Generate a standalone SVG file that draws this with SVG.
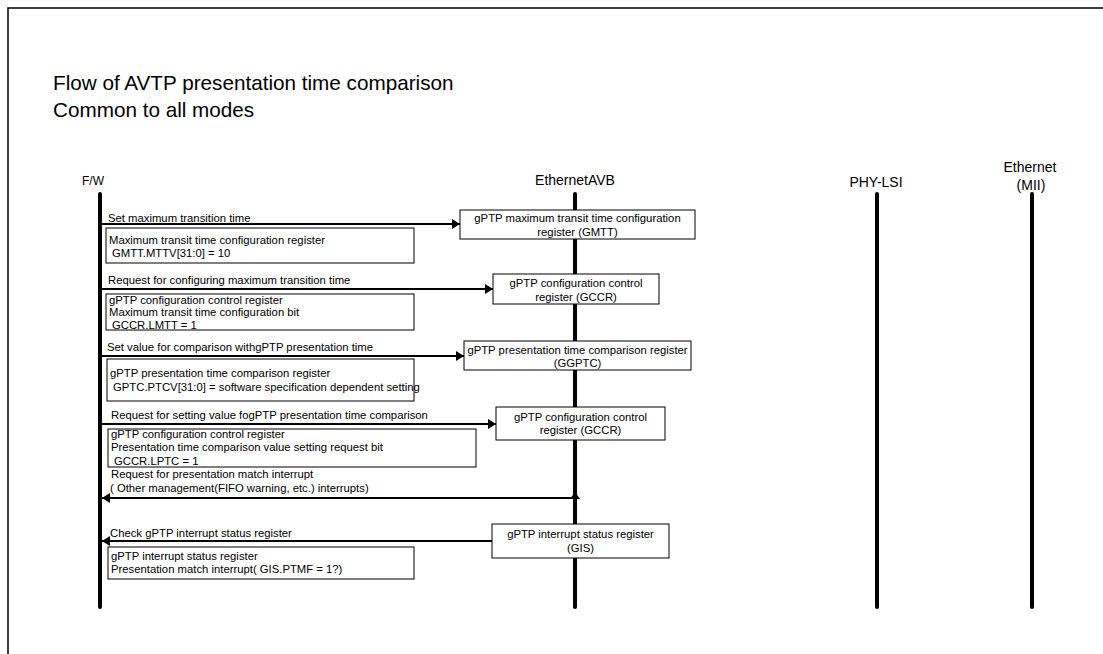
<svg xmlns="http://www.w3.org/2000/svg" width="1103" height="654" viewBox="0 0 1103 654">
<style>
text{font-family:"Liberation Sans",Arial,sans-serif;fill:#000}
.t{font-size:20.7px}
.h{font-size:14px;text-anchor:middle}
.s{font-size:11.3px}
.c{font-size:11.3px;text-anchor:middle}
.life{stroke:#000;stroke-width:4;stroke-linecap:round;fill:none}
.box{fill:#fff;stroke:#000;stroke-width:1}
.msg{stroke:#000;stroke-width:2;fill:none}
</style>
<defs>
<marker id="ah" viewBox="0 0 8 10" refX="8" refY="5" markerWidth="8" markerHeight="10" markerUnits="userSpaceOnUse" orient="auto">
<path d="M0,0 L8,5 L0,10 Z" fill="#000"/>
</marker>
</defs>
<rect width="1103" height="654" fill="#fff"/>
<path d="M8,654 V8 H1103" fill="none" stroke="#000" stroke-width="1.5"/>
<g id="title">
<text class="t" x="53" y="90">Flow of AVTP presentation time comparison</text>
<text class="t" x="53" y="117">Common to all modes</text>
</g>
<g id="lifelines">
<g id="fw"><text class="h" x="93" y="185" style="font-size:12px">F/W</text><line class="life" x1="100" y1="194" x2="100" y2="607"/></g>
<g id="avb"><text class="h" x="575" y="185">EthernetAVB</text><line class="life" x1="575" y1="194" x2="575" y2="607"/></g>
<g id="phy"><text class="h" x="876" y="187">PHY-LSI</text><line class="life" x1="877" y1="194" x2="877" y2="607"/></g>
<g id="mii"><text class="h" x="1030" y="172">Ethernet</text><text class="h" x="1031" y="190">(MII)</text><line class="life" x1="1032" y1="194" x2="1032" y2="607"/></g>
</g>
<g id="connectors">
<line class="msg" x1="100" y1="224" x2="460" y2="224" marker-end="url(#ah)"/>
<line class="msg" x1="100" y1="289" x2="493" y2="289" marker-end="url(#ah)"/>
<line class="msg" x1="100" y1="356" x2="464" y2="356" marker-end="url(#ah)"/>
<line class="msg" x1="100" y1="424" x2="496" y2="424" marker-end="url(#ah)"/>
<line class="msg" x1="572" y1="498" x2="102" y2="498" marker-end="url(#ah)"/>
<polygon points="570,499 575,492 580,499" fill="#000"/>
<line class="msg" x1="492" y1="541" x2="102" y2="541" marker-end="url(#ah)"/>
</g>
<g id="labels">
<text class="s" x="108" y="221.5">Set maximum transition time</text>
<text class="s" x="108" y="283.5">Request for configuring maximum transition time</text>
<text class="s" x="107" y="350.5">Set value for comparison withgPTP presentation time</text>
<text class="s" x="111" y="418.5">Request for setting value fogPTP presentation time comparison</text>
<text class="s" x="111" y="478">Request for presentation match interrupt</text>
<text class="s" x="110" y="492">( Other management(FIFO warning, etc.) interrupts)</text>
<text class="s" x="110" y="537">Check gPTP interrupt status register</text>
</g>
<g id="note1"><rect class="box" x="106" y="228" width="308" height="35"/>
<text class="s" x="109" y="244">Maximum transit time configuration register</text>
<text class="s" x="112" y="256.5">GMTT.MTTV[31:0] = 10</text></g>
<g id="note2"><rect class="box" x="106" y="294" width="308" height="36"/>
<text class="s" x="109" y="303.5">gPTP configuration control register</text>
<text class="s" x="109" y="316">Maximum transit time configuration bit</text>
<text class="s" x="112" y="328.5">GCCR.LMTT = 1</text></g>
<g id="note3"><rect class="box" x="107" y="359" width="307" height="42"/>
<text class="s" x="110" y="377">gPTP presentation time comparison register</text>
<text class="s" x="113" y="391">GPTC.PTCV[31:0] = software specification dependent setting</text></g>
<g id="note4"><rect class="box" x="108" y="429" width="368" height="38"/>
<text class="s" x="111" y="438">gPTP configuration control register</text>
<text class="s" x="111" y="451">Presentation time comparison value setting request bit</text>
<text class="s" x="114" y="465">GCCR.LPTC = 1</text></g>
<g id="note6"><rect class="box" x="108" y="547" width="306" height="32"/>
<text class="s" x="111" y="560">gPTP interrupt status register</text>
<text class="s" x="111" y="573">Presentation match interrupt( GIS.PTMF = 1?)</text></g>
<g id="gmtt"><rect class="box" x="460" y="210" width="235" height="29"/>
<text class="c" x="577.5" y="222">gPTP maximum transit time configuration</text>
<text class="c" x="577.5" y="236">register (GMTT)</text></g>
<g id="gccr1"><rect class="box" x="493" y="274" width="166" height="30"/>
<text class="c" x="576" y="287">gPTP configuration control</text>
<text class="c" x="576" y="301">register (GCCR)</text></g>
<g id="ggptc"><rect class="box" x="464" y="341" width="227" height="29"/>
<text class="c" x="577.5" y="354">gPTP presentation time comparison register</text>
<text class="c" x="577.5" y="367">(GGPTC)</text></g>
<g id="gccr2"><rect class="box" x="496" y="407" width="169" height="33"/>
<text class="c" x="580.5" y="421">gPTP configuration control</text>
<text class="c" x="580.5" y="434">register (GCCR)</text></g>
<g id="gis"><rect class="box" x="492" y="524" width="177" height="34"/>
<text class="c" x="580.5" y="538">gPTP interrupt status register</text>
<text class="c" x="580.5" y="552">(GIS)</text></g>
</svg>
